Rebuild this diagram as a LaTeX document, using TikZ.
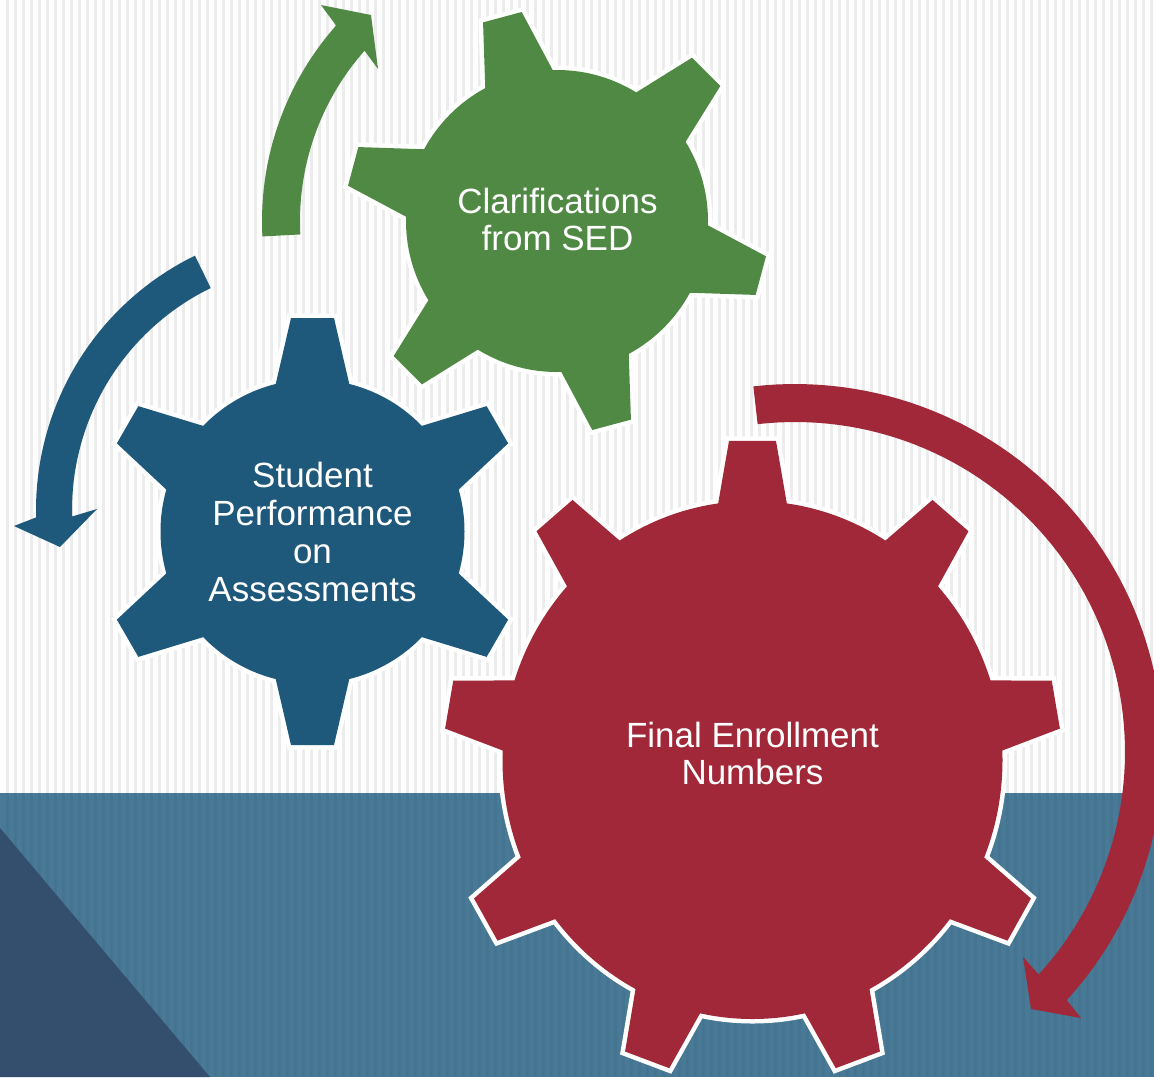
\documentclass[tikz,border=0pt]{standalone}
\usepackage{fontspec}
\setmainfont{Liberation Sans}
\definecolor{gearG}{RGB}{80,137,68}
\definecolor{gearB}{RGB}{30,88,122}
\definecolor{gearR}{RGB}{160,40,56}
\definecolor{bandC}{RGB}{72,121,151}
\definecolor{bandD}{RGB}{52,79,109}
\definecolor{stripeC}{RGB}{236,236,236}
% #1 style, #2 body radius, #3 tip radius, #4 tip half width, #5 inner radius, #6 inner half width, #7 tooth angles
\newcommand\mygear[7]{%
  \foreach \a in {#7} \path[#1,rotate=-\a] (#5,-#6) -- (#3,-#4) -- (#3,#4) -- (#5,#6) -- cycle;
  \path[#1] (0,0) circle[radius=#2];
}
\begin{document}
\begin{tikzpicture}[x=1pt,y=-1pt,
  gearlabel/.style={text=white, align=center, font=\fontsize{35}{37}\selectfont, inner sep=0pt},
  outl/.style={draw=white, line width=9pt, line join=miter},
]
\useasboundingbox (0,0) rectangle (1154,1077);
\clip (0,0) rectangle (1154,1077);
% background
\fill[white] (0,0) rectangle (1154,1077);
\foreach \i in {0,...,144} \fill[stripeC] ({\i*8+5.5},0) rectangle ++(3,1077);
\fill[bandC] (0,793) rectangle (1154,1077);
\foreach \i in {0,...,144} \fill[black,opacity=0.035] ({\i*8+5.5},793) rectangle ++(3,284);
\fill[bandD] (0,828) -- (210,1077) -- (0,1077) -- cycle;

% green gear
\begin{scope}[shift={(557,221)}]
  \mygear{outl}{151}{211}{20}{125}{40}{15,75,...,315}
  \mygear{fill=gearG}{151}{211}{20}{125}{40}{15,75,...,315}
\end{scope}
% blue gear
\begin{scope}[shift={(312.5,531.5)}]
  \mygear{outl}{152}{213.5}{21.5}{125}{42}{30,90,...,330}
  \mygear{fill=gearB}{152}{213.5}{21.5}{125}{42}{30,90,...,330}
\end{scope}
% red gear
\begin{scope}[shift={(752.5,760)}, yscale=1.036]
  \mygear{outl}{250}{308}{23.5}{225}{38.4}{-90,-50,...,230}
  \mygear{fill=gearR}{250}{308}{23.5}{225}{38.4}{-90,-50,...,230}
\end{scope}

% circular arrows
\fill[gearG] plot[domain=177:221.5,samples=40] ({557+295*cos(\x)},{221+295*sin(\x)})
  -- (321,5) -- (371,15) -- (378,69)
  -- plot[domain=221.5:177,samples=40] ({557+257*cos(\x)},{221+257*sin(\x)}) -- cycle;
\fill[gearB] plot[domain=244:178.5,samples=40] ({319+283*cos(\x)},{510+283*sin(\x)})
  -- (14,526) -- (60,547) -- (97,509)
  -- plot[domain=178.5:244,samples=40] ({319+247*cos(\x)},{510+247*sin(\x)}) -- cycle;
\fill[gearR] plot[domain=-96.5:42.4,samples=80] ({795+368*cos(\x)},{752+368*sin(\x)})
  -- (1081,1018) -- (1031,1009) -- (1023,957)
  -- plot[domain=42.4:-96.5,samples=80] ({795+330*cos(\x)},{752+330*sin(\x)}) -- cycle;

% labels
\node[gearlabel] (sed) at (557.5,219) {Clarifications\\from SED};
\node[gearlabel, font=\fontsize{35}{38}\selectfont] (perf) at (312.5,531.5) {Student\\Performance\\on\\Assessments};
\node[gearlabel] (enr) at (752.5,753.5) {Final Enrollment\\Numbers};
\end{tikzpicture}
\end{document}
